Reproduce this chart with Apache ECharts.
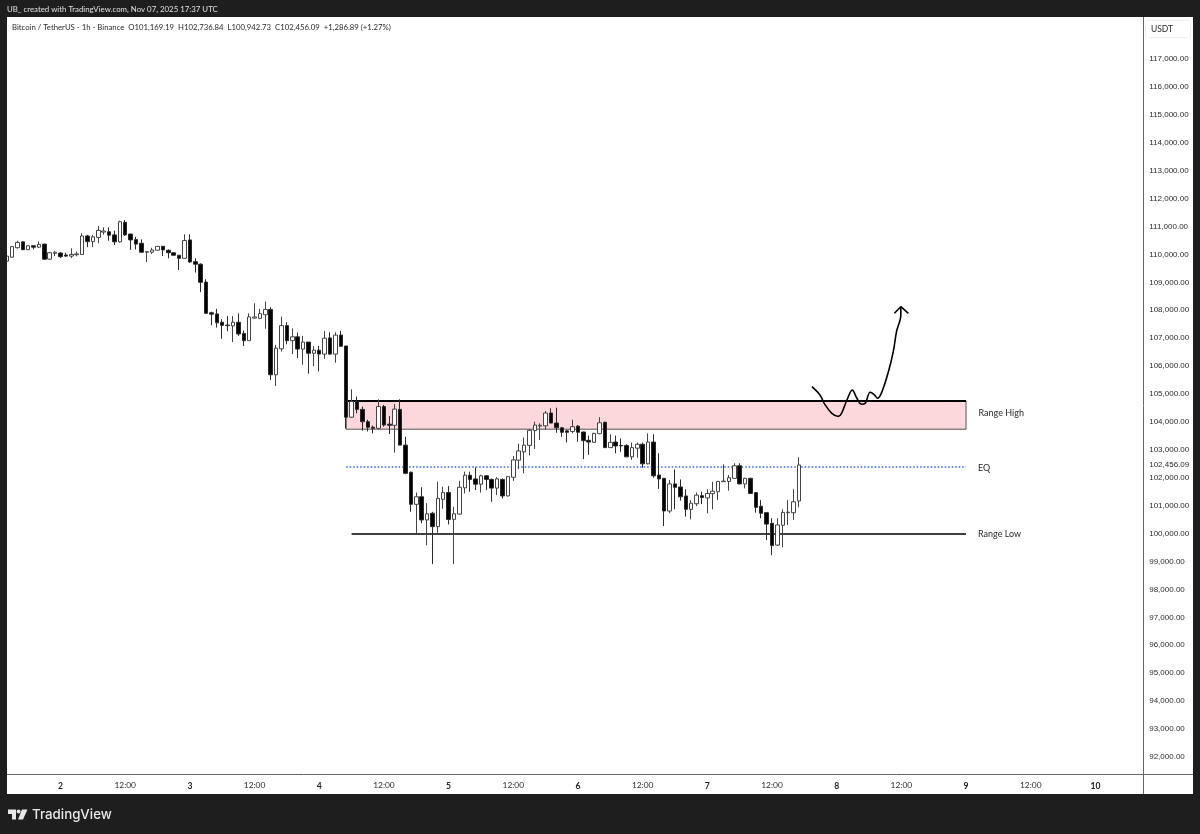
<!DOCTYPE html>
<html>
<head>
<meta charset="utf-8">
<style>html,body{margin:0;padding:0;background:#1e1e1e}#c{width:1200px;height:834px}</style>
<script src="https://cdn.jsdelivr.net/npm/echarts@6/dist/echarts.min.js"></script>
</head>
<body>
<div id="c"></div>
<script>
const opens=[109760,109900,110240,110450,110170,110310,110260,110370,109830,110040,110050,109980,109940,109990,110000,110660,110460,110610,110800,110810,110700,110450,111150,110730,110530,110400,110080,110080,110150,110290,110150,110060,109970,109860,110520,109740,109650,109010,107910,107870,107570,107470,107440,107570,107170,106910,107720,107710,107840,108030,105690,106620,107450,106910,107050,106610,106860,106460,106570,106430,107010,106430,107110,106720,104170,104730,104450,104010,103810,103770,104550,103920,103880,104450,103170,102200,101050,101320,100490,100730,100250,101230,101470,100510,100700,101640,102090,101960,101770,102070,101940,101630,101940,101350,102020,102630,102930,103160,103690,103850,103860,104320,103960,103790,103680,103660,103850,103640,103340,103270,103580,103990,103080,103280,103160,103160,102750,103060,103200,102500,103280,102100,101980,100810,101780,101670,101350,100870,101070,101360,101280,101430,101500,101860,101870,101980,102430,101780,101980,101470,100980,100750,100370,99590,100300,100750,100750,101169.19];
const closes=[109940,110280,110430,110170,110310,110260,110360,109830,110060,110080,109920,109940,110000,110020,110660,110460,110630,110860,110840,110690,110450,111170,110700,110520,110370,110080,110100,110160,110290,110160,110060,109970,109860,110500,109730,109650,109000,107890,107860,107550,107460,107450,107570,107150,106910,107760,107760,107880,108030,105690,106640,107450,106910,107050,106610,106860,106460,106570,106430,107000,106430,107110,106710,104170,104730,104450,104010,103810,103770,104550,103890,103880,104460,103170,102160,101050,101320,100490,100710,100250,101260,101470,100510,100710,101660,102090,101940,101770,102070,101940,101630,101960,101350,102040,102640,102960,103170,103700,103890,103880,104320,103960,103790,103630,103630,103830,103630,103330,103280,103590,103970,103080,103270,103140,103140,102750,103080,103200,102500,103280,102070,101960,100810,101780,101660,101320,100870,101090,101380,101290,101440,101520,101870,101880,102000,102430,101780,101980,101440,100940,100730,100340,99570,100310,100760,100770,101140,102456.09];
const lows=[109690,109890,110210,110160,110160,110180,110240,109810,109810,109940,109870,109910,109870,109930,109980,110260,110260,110400,110710,110490,110340,110420,110660,110160,110180,110060,109730,110020,110150,109940,109860,109970,109440,109850,109700,109350,108650,107870,107460,107380,106980,107250,106860,107080,106720,106900,107700,107680,107340,105500,105290,106520,106780,106430,106290,106050,105730,106000,105810,106260,106400,106120,106690,103760,104140,104310,103690,103660,103590,103740,103830,103570,102900,103170,102130,100780,99990,100370,99580,98910,100030,100890,100330,98910,100680,101440,101500,101560,101470,101560,101140,101380,101260,101330,101890,102310,102160,102800,103030,103350,103710,103950,103610,103470,103270,103590,103290,102670,102820,103260,103560,103080,103080,102880,102930,102740,102640,102720,102360,102480,102000,101600,100270,100730,100870,101180,100610,100510,100990,101060,100730,100870,101200,101860,101540,101970,101770,101620,101420,100750,100550,99770,99230,99560,99510,100310,100490,100942.73];
const highs=[109980,110290,110490,110460,110320,110320,110470,110380,110090,110110,110080,110060,110220,110100,110760,110700,110700,111020,110970,110970,110850,111210,111230,110730,110630,110540,110100,110240,110300,110290,110180,110060,109970,110720,110720,109860,109680,109110,107950,108050,107680,107790,107790,107890,107270,107890,108250,108050,108310,108110,106760,107770,107570,107350,107200,107080,106860,106720,106720,107260,107210,107210,107260,106720,105170,104910,104550,104080,103870,104810,104610,104210,104640,104810,103470,102220,101470,101660,101090,100780,101860,101680,101700,100960,101890,102220,102220,102370,102110,102100,101980,102020,101980,102060,102780,103220,103440,103740,104010,103950,104390,104490,104510,103820,103710,104080,103890,103650,103510,103610,104170,103990,103560,103510,103410,103200,103260,103260,103260,103590,103560,102880,101980,101920,102300,101940,101590,101200,101470,101500,101590,101860,101880,102480,102100,102520,102520,102000,102000,101480,101200,100750,100550,100550,100870,101200,101590,102736.84];
const timeLabels=['2','12:00','3','12:00','4','12:00','5','12:00','6','12:00','7','12:00','8','12:00','9','12:00','10'];
const priceTicks=[92000,93000,94000,95000,96000,97000,98000,99000,100000,101000,102000,102456.09,103000,104000,105000,106000,107000,108000,109000,110000,111000,112000,113000,114000,115000,116000,117000];
const rangeHigh=104750, rangeZoneLow=103740, rangeEq=102390, rangeLow=100000;
const sketchHour=[149.4,150.9,151.8,153.1,154.3,154.9,155.9,156.9,157.7,158.6,159.3,160.2,160.9,161.6,162.4,163.6,164.5,165.1,165.9,165.9];
const sketchPrice=[105262,104964,104631,104309,104201,104309,104785,105144,104868,104631,104667,105061,104990,104846,105083,105799,106516,107232,107830,108127];
const arrowHour=[164.7,165.9,167.3];
const arrowPrice=[107891,108127,107891];

const N=212, FIRST_TICK=10, TICK_STEP=12;
const categories=Array.from({length:N},(_,i)=>String(i));
const candles=opens.map((o,i)=>[o,closes[i],lows[i],highs[i]]);
const FONT='Lato, "Noto Sans", sans-serif';
const NUMFONT='"Liberation Sans", Arial, sans-serif';
const TXT='#2a2a2a';
const chart=echarts.init(document.getElementById('c'),null,{renderer:'canvas',width:1200,height:834});
chart.setOption({
 animation:false,
 backgroundColor:'#1e1e1e',
 grid:{left:3.93,top:17,width:1142.68,height:757,containLabel:false},
 xAxis:[{
  type:'category',data:categories,boundaryGap:true,
  axisLine:{show:false},axisTick:{show:false},splitLine:{show:false},
  axisLabel:{
   margin:7.5,hideOverlap:false,
   interval:(i)=>i>=FIRST_TICK&&(i-FIRST_TICK)%TICK_STEP===0,
   formatter:(v,i)=>{const t=timeLabels[(i-FIRST_TICK)/TICK_STEP]||'';return t.includes(':')?'{h|'+t+'}':'{d|'+t+'}';},
   rich:{h:{fontFamily:FONT,fontSize:8.4,color:TXT},d:{fontFamily:FONT,fontSize:8.6,fontWeight:'bold',color:'#222'}}
  }
 },{
  type:'value',min:-0.5,max:N-0.5,show:false,splitLine:{show:false}
 }],
 yAxis:{
  type:'value',position:'right',min:91390,max:118504,scale:true,
  axisLine:{show:false},axisTick:{show:false},splitLine:{show:false},
  axisLabel:{
   customValues:priceTicks,margin:2.6,fontFamily:NUMFONT,fontSize:8,color:TXT,
   showMinLabel:true,showMaxLabel:true,
   formatter:(v)=>Number(v).toLocaleString('en-US',{minimumFractionDigits:2,maximumFractionDigits:2})
  }
 },
 series:[{
  type:'candlestick',xAxisIndex:0,yAxisIndex:0,data:candles,barWidth:4,
  clip:false,z:5,
  itemStyle:{color:'#ffffff',color0:'#000000',borderColor:'#444444',borderColor0:'#2a2a2a',borderWidth:1},
  markArea:{
   silent:true,z:1,
   itemStyle:{color:'#fcd8dc',borderColor:'#555',borderWidth:1},
   label:{show:true,position:'right',distance:12,offset:[0,-2.5],fontFamily:FONT,fontSize:9,color:TXT,formatter:'Range High'},
   data:[[{xAxis:63,yAxis:rangeHigh},{xAxis:178,yAxis:rangeZoneLow}]]
  },
  markLine:{
   silent:true,symbol:'none',z:3,precision:0,
   data:[
    [{xAxis:63,yAxis:rangeHigh,lineStyle:{color:'#000',width:2,type:'solid'}},{xAxis:178,yAxis:rangeHigh}],
    [{xAxis:63,yAxis:rangeEq,lineStyle:{color:'#2962ff',width:1.5,type:[1.5,2]},label:{show:true,position:'end',distance:12,offset:[0,1.5],formatter:'EQ',fontFamily:FONT,fontSize:9,color:TXT}},{xAxis:178,yAxis:rangeEq}],
    [{xAxis:64,yAxis:rangeLow,lineStyle:{color:'#000',width:1.5,type:'solid'},label:{show:true,position:'end',distance:12,formatter:'Range Low',fontFamily:FONT,fontSize:9,color:TXT}},{xAxis:178,yAxis:rangeLow}]
   ],
   label:{show:false}
  }
 },{
  type:'line',xAxisIndex:1,yAxisIndex:0,smooth:0.35,showSymbol:false,symbol:'none',z:6,
  data:sketchHour.map((h,i)=>[h,sketchPrice[i]]),
  lineStyle:{color:'#000',width:1.6}
 },{
  type:'line',xAxisIndex:1,yAxisIndex:0,showSymbol:false,symbol:'none',z:6,
  data:arrowHour.map((h,i)=>[h,arrowPrice[i]]),
  lineStyle:{color:'#000',width:1.6}
 }],
 graphic:[
  {type:'rect',z:-10,silent:true,shape:{x:7,y:17,width:1186,height:777},style:{fill:'#fff'}},
  {type:'rect',z:50,silent:true,shape:{x:0,y:17,width:7,height:777},style:{fill:'#1e1e1e'}},
  {type:'line',z:51,silent:true,shape:{x1:7,y1:774.5,x2:1193,y2:774.5},style:{stroke:'#666',lineWidth:1}},
  {type:'line',z:51,silent:true,shape:{x1:1143.5,y1:17,x2:1143.5,y2:794},style:{stroke:'#666',lineWidth:1}},
  {type:'rect',z:51,silent:true,shape:{x:1145.5,y:20.5,width:45,height:17,r:2},style:{fill:'#fff',stroke:'#efefef',lineWidth:1}},
  {type:'text',z:52,silent:true,style:{x:1151,y:29,text:'USDT',fontFamily:FONT,fontSize:8.5,fill:TXT,verticalAlign:'middle'}},
  {type:'text',z:52,silent:true,style:{x:7,y:9,text:'UB_ created with TradingView.com, Nov 07, 2025 17:37 UTC',fontFamily:FONT,fontSize:7.85,fill:'#e0e0e0',verticalAlign:'middle'}},
  {type:'text',z:52,silent:true,style:{x:12,y:27,text:'Bitcoin / TetherUS - 1h - Binance  O101,169.19  H102,736.84  L100,942.73  C102,456.09  +1,286.89 (+1.27%)',fontFamily:FONT,fontSize:7.75,fill:TXT,verticalAlign:'middle'}},
  {type:'polygon',z:52,silent:true,shape:{points:[[8,809.5],[16,809.5],[16,819.5],[12,819.5],[12,814],[8,814]]},style:{fill:'#e8e8e8'}},
  {type:'polygon',z:52,silent:true,shape:{points:[[23,819.5],[18,819.5],[22,809.5],[27.5,809.5]]},style:{fill:'#e8e8e8'}},
  {type:'circle',z:52,silent:true,shape:{cx:18.6,cy:811.6,r:2},style:{fill:'#e8e8e8'}},
  {type:'text',z:52,silent:true,style:{x:32,y:814.5,text:'TradingView',fontFamily:'Inter, "Noto Sans", sans-serif',fontSize:13.3,fontWeight:500,fill:'#e8e8e8',verticalAlign:'middle'}}
 ]
});
</script>
</body>
</html>
